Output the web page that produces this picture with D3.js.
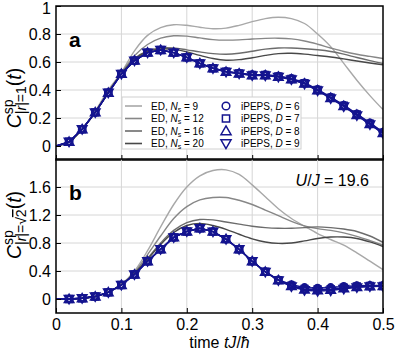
<!DOCTYPE html>
<html>
<head>
<meta charset="utf-8">
<title>Csp dynamics</title>
<script src="https://cdnjs.cloudflare.com/ajax/libs/d3/7.8.5/d3.min.js"></script>
<style>
  body { margin: 0; background: #fff; }
  svg { display: block; font-family: "Liberation Sans", Arial, sans-serif; }
</style>
</head>
<body>
<svg id="chart" width="395" height="353"></svg>
<script>
// time grid (tJ/hbar), shared by ED curves and iPEPS points
const times = [0, 0.02, 0.04, 0.06, 0.08, 0.1, 0.12, 0.14, 0.16, 0.18, 0.2, 0.22, 0.24, 0.26,
  0.28, 0.3, 0.32, 0.34, 0.36, 0.38, 0.4, 0.42, 0.44, 0.46, 0.48, 0.5];

const edSizes = [9, 12, 16, 20];
const dValues = [6, 7, 8, 9];

// panel a : |r| = 1
const edTop9 = [0, 0.03, 0.12, 0.25, 0.4, 0.525, 0.68, 0.79, 0.845, 0.866, 0.862, 0.848, 0.838, 0.842, 0.862, 0.888, 0.91, 0.92, 0.91, 0.875, 0.8, 0.71, 0.59, 0.47, 0.36, 0.26];
const edTop12 = [0, 0.03, 0.12, 0.245, 0.39, 0.52, 0.645, 0.725, 0.77, 0.787, 0.785, 0.772, 0.76, 0.756, 0.758, 0.764, 0.769, 0.77, 0.765, 0.75, 0.727, 0.7, 0.675, 0.655, 0.64, 0.625];
const edTop16 = [0, 0.03, 0.12, 0.24, 0.385, 0.515, 0.625, 0.68, 0.7, 0.7, 0.687, 0.672, 0.66, 0.655, 0.662, 0.677, 0.692, 0.7, 0.7, 0.695, 0.687, 0.675, 0.656, 0.632, 0.61, 0.59];
const edTop20 = [0, 0.03, 0.12, 0.24, 0.385, 0.515, 0.62, 0.675, 0.694, 0.69, 0.672, 0.647, 0.625, 0.613, 0.617, 0.63, 0.647, 0.66, 0.662, 0.656, 0.646, 0.636, 0.622, 0.607, 0.593, 0.58];

const pepsTop6 = [0, 0.03, 0.12, 0.24, 0.38, 0.515, 0.61, 0.667, 0.686, 0.667, 0.633, 0.592, 0.557, 0.533, 0.521, 0.51, 0.51, 0.5, 0.483, 0.452, 0.405, 0.35, 0.292, 0.23, 0.166, 0.1];
const pepsTop7 = [0, 0.03, 0.12, 0.24, 0.38, 0.515, 0.61, 0.667, 0.686, 0.667, 0.633, 0.59, 0.555, 0.531, 0.519, 0.507, 0.507, 0.497, 0.479, 0.448, 0.4, 0.345, 0.288, 0.225, 0.16, 0.095];
const pepsTop8 = [0, 0.03, 0.12, 0.24, 0.38, 0.515, 0.61, 0.667, 0.686, 0.667, 0.633, 0.59, 0.555, 0.53, 0.518, 0.505, 0.505, 0.495, 0.477, 0.446, 0.398, 0.343, 0.285, 0.222, 0.157, 0.092];
const pepsTop9 = [0, 0.03, 0.12, 0.24, 0.38, 0.515, 0.61, 0.667, 0.686, 0.667, 0.633, 0.589, 0.554, 0.529, 0.517, 0.504, 0.503, 0.493, 0.475, 0.444, 0.396, 0.34, 0.282, 0.219, 0.154, 0.09];

// panel b : |r| = sqrt(2)
const edBot9 = [0, 0, 0.01, 0.035, 0.1, 0.21, 0.4, 0.69, 1.03, 1.35, 1.6, 1.76, 1.835, 1.845, 1.78, 1.63, 1.46, 1.29, 1.15, 1.04, 0.935, 0.85, 0.77, 0.66, 0.54, 0.42];
const edBot12 = [0, 0, 0.01, 0.035, 0.1, 0.21, 0.38, 0.635, 0.9, 1.15, 1.32, 1.415, 1.45, 1.45, 1.41, 1.35, 1.27, 1.19, 1.11, 1.045, 1.005, 0.98, 0.945, 0.895, 0.835, 0.77];
const edBot16 = [0, 0, 0.01, 0.035, 0.1, 0.205, 0.37, 0.58, 0.8, 0.98, 1.09, 1.135, 1.13, 1.1, 1.07, 1.04, 1.02, 1.01, 1.01, 1.02, 1.03, 1.02, 1.0, 0.965, 0.9, 0.81];
const edBot20 = [0, 0, 0.01, 0.035, 0.1, 0.205, 0.365, 0.565, 0.78, 0.95, 1.05, 1.08, 1.05, 0.995, 0.925, 0.86, 0.815, 0.795, 0.8, 0.83, 0.865, 0.885, 0.885, 0.865, 0.815, 0.75];

const pepsBot6 = [0, 0, 0.01, 0.035, 0.095, 0.2, 0.35, 0.54, 0.71, 0.88, 0.965, 1.01, 0.962, 0.855, 0.71, 0.54, 0.392, 0.275, 0.205, 0.165, 0.155, 0.165, 0.18, 0.19, 0.195, 0.195];
const pepsBot7 = [0, 0, 0.01, 0.035, 0.095, 0.2, 0.35, 0.54, 0.71, 0.88, 0.965, 1.01, 0.962, 0.855, 0.71, 0.54, 0.39, 0.27, 0.19, 0.145, 0.135, 0.14, 0.16, 0.178, 0.186, 0.186];
const pepsBot8 = [0, 0, 0.01, 0.035, 0.095, 0.2, 0.35, 0.54, 0.71, 0.88, 0.965, 1.01, 0.962, 0.855, 0.71, 0.54, 0.388, 0.268, 0.185, 0.135, 0.125, 0.132, 0.153, 0.172, 0.182, 0.184];
const pepsBot9 = [0, 0, 0.01, 0.035, 0.095, 0.2, 0.35, 0.54, 0.71, 0.88, 0.965, 1.01, 0.962, 0.855, 0.71, 0.54, 0.386, 0.265, 0.178, 0.125, 0.112, 0.12, 0.145, 0.166, 0.178, 0.18];

const xTicks = [0, 0.1, 0.2, 0.3, 0.4, 0.5];
const yTicksTop = [0, 0.2, 0.4, 0.6, 0.8, 1];
const yTicksBot = [0, 0.4, 0.8, 1.2, 1.6];

const grays = ["#a8a8a8", "#878787", "#6c6c6c", "#484848"];
const blue = "#14148f";

const svg = d3.select("#chart");
const left = 56, right = 383;
const x = d3.scaleLinear().domain([0, 0.5]).range([left, right]);
const yTop = d3.scaleLinear().domain([-0.1, 1]).range([160, 6]);
const yBot = d3.scaleLinear().domain([-0.2, 2]).range([313, 159]);

const symbolTypes = [d3.symbolCircle, d3.symbolSquare, d3.symbolTriangle, d3.symbolTriangle];
const symbolSizes = [36, 42, 34, 34];
const symbolRot = [0, 0, 0, 180];

function toPoints(vals) {
  return vals.map((v, i) => ({ t: times[i], v: v }));
}

function panel(id, y, edList, pepsList, yTicks, showXLabels) {
  const [y0, y1] = y.range();
  const g = svg.append("g");

  g.append("clipPath").attr("id", "clip" + id)
    .append("rect").attr("x", left).attr("y", y1).attr("width", right - left).attr("height", y0 - y1);

  // grid
  g.append("g").selectAll("line.v").data(xTicks.filter(d => d > 0 && d < 0.5)).join("line")
    .attr("x1", d => x(d)).attr("x2", d => x(d)).attr("y1", y0).attr("y2", y1)
    .attr("stroke", "#d6d6d6").attr("stroke-width", 1);
  g.append("g").selectAll("line.h").data(yTicks.filter(d => d > 0 && y(d) > y1 + 2)).join("line")
    .attr("x1", left).attr("x2", right).attr("y1", d => y(d)).attr("y2", d => y(d))
    .attr("stroke", "#d6d6d6").attr("stroke-width", 1);

  const data = g.append("g").attr("clip-path", `url(#clip${id})`);

  const edLine = d3.line().x(d => x(d.t)).y(d => y(d.v)).curve(d3.curveCatmullRom.alpha(0.5));
  edList.forEach((vals, i) => {
    data.append("path").attr("d", edLine(toPoints(vals)))
      .attr("fill", "none").attr("stroke", grays[i]).attr("stroke-width", 1.4);
  });

  const pLine = d3.line().x(d => x(d.t)).y(d => y(d.v));
  pepsList.forEach(vals => {
    data.append("path").attr("d", pLine(toPoints(vals)))
      .attr("fill", "none").attr("stroke", blue).attr("stroke-width", 1.4);
  });
  pepsList.forEach((vals, k) => {
    const sym = d3.symbol().type(symbolTypes[k]).size(symbolSizes[k]);
    data.append("g").selectAll("path").data(toPoints(vals).filter(d => d.t > 0)).join("path")
      .attr("d", sym)
      .attr("transform", d => `translate(${x(d.t)},${y(d.v) + (k === 2 ? 0.7 : k === 3 ? -0.7 : 0)}) rotate(${symbolRot[k]})`)
      .attr("fill", "none").attr("stroke", blue).attr("stroke-width", 1.9);
  });

  // axes with inward ticks
  const ay = g.append("g").attr("transform", `translate(${left},0)`)
    .call(d3.axisLeft(y).tickValues(yTicks).tickSizeInner(-5).tickSizeOuter(0).tickPadding(5)
      .tickFormat(d => d === 0 ? "0" : d === 1 ? "1" : d3.format(".1f")(d)));
  const ax = g.append("g").attr("transform", `translate(0,${y0})`)
    .call(d3.axisBottom(x).tickValues(xTicks).tickSizeInner(-5).tickSizeOuter(0).tickPadding(6)
      .tickFormat(d => showXLabels ? (d === 0 ? "0" : d3.format(".1f")(d)) : ""));
  [ay, ax].forEach(a => {
    a.select(".domain").remove();
    a.selectAll("text").attr("font-size", 16).attr("fill", "#000")
      .attr("font-family", "'Liberation Sans', Arial, sans-serif");
    a.selectAll("line").attr("stroke", "#000");
  });
  // keep the topmost label inside the picture
  ay.selectAll(".tick").filter(d => y(d) < 10).select("text").attr("dy", "0.45em");

  g.append("rect").attr("x", left).attr("y", y1).attr("width", right - left).attr("height", y0 - y1)
    .attr("fill", "none").attr("stroke", "#000").attr("stroke-width", 1.5);
  return g;
}

panel("a", yTop, [edTop9, edTop12, edTop16, edTop20], [pepsTop6, pepsTop7, pepsTop8, pepsTop9], yTicksTop, false);
panel("b", yBot, [edBot9, edBot12, edBot16, edBot20], [pepsBot6, pepsBot7, pepsBot8, pepsBot9], yTicksBot, true);

// legend
const lg = svg.append("g");
lg.append("rect").attr("x", 122).attr("y", 97).attr("width", 179).attr("height", 52)
  .attr("fill", "#fff").attr("stroke", "#d0d0d0").attr("stroke-width", 1);
const rowY = i => 106 + i * 12.5;
edSizes.forEach((n, i) => {
  lg.append("line").attr("x1", 125).attr("x2", 142).attr("y1", rowY(i)).attr("y2", rowY(i))
    .attr("stroke", grays[i]).attr("stroke-width", 1.6);
  const t = lg.append("text").attr("x", 151).attr("y", rowY(i) + 3.6).attr("font-size", 10);
  t.append("tspan").text("ED, ");
  t.append("tspan").attr("font-style", "italic").text("N");
  t.append("tspan").attr("font-size", 7).attr("dy", 2).text("s");
  t.append("tspan").attr("dy", -2).text(" = " + n);
});
dValues.forEach((dv, k) => {
  const sym = d3.symbol().type(symbolTypes[k]).size(symbolSizes[k] + 10);
  lg.append("path").attr("d", sym)
    .attr("transform", `translate(226,${rowY(k) + (k === 2 ? 0.8 : k === 3 ? -0.8 : 0)}) rotate(${symbolRot[k]})`)
    .attr("fill", "none").attr("stroke", blue).attr("stroke-width", 1.5);
  const t = lg.append("text").attr("x", 241).attr("y", rowY(k) + 3.6).attr("font-size", 10);
  t.append("tspan").text("iPEPS, ");
  t.append("tspan").attr("font-style", "italic").text("D");
  t.append("tspan").text(" = " + dv);
});

// y labels: C^sp_{sub}(t)
function yLabel(cx, cy, sub) {
  const g = svg.append("g").attr("transform", `translate(${cx},${cy}) rotate(-90)`);
  const txt = g.append("text").attr("font-size", 19.5);
  txt.append("tspan").attr("font-style", "italic").text("C");
  const s = txt.append("tspan").attr("font-size", 14).attr("dy", 5);
  sub.forEach(p => {
    const ts = s.append("tspan").text(p.s);
    if (p.it) ts.attr("font-style", "italic");
    if (p.ov) ts.style("text-decoration", "overline");
  });
  const subW = s.node().getComputedTextLength();
  const sp = txt.append("tspan").attr("font-size", 14).attr("dy", -13).attr("dx", -subW).text("sp");
  const spW = sp.node().getComputedTextLength();
  const rest = txt.append("tspan").attr("dy", 8).attr("dx", subW - spW);
  rest.append("tspan").text("(");
  rest.append("tspan").attr("font-style", "italic").text("t");
  rest.append("tspan").text(")");
  const w = txt.node().getBBox().width;
  txt.attr("x", -w / 2);
}
yLabel(21, 98, [{ s: "|" }, { s: "r", it: true }, { s: "|=1" }]);
yLabel(21, 225, [{ s: "|" }, { s: "r", it: true }, { s: "|=√" }, { s: "2", ov: true }]);

// panel letters and annotation
svg.append("text").attr("x", 69).attr("y", 47).attr("font-size", 21).attr("font-weight", "bold").text("a");
svg.append("text").attr("x", 69).attr("y", 200).attr("font-size", 21).attr("font-weight", "bold").text("b");

const uj = svg.append("text").attr("x", 369).attr("y", 186).attr("font-size", 16).attr("text-anchor", "end");
uj.append("tspan").attr("font-style", "italic").text("U");
uj.append("tspan").text("/");
uj.append("tspan").attr("font-style", "italic").text("J");
uj.append("tspan").text(" = 19.6");

const xl = svg.append("text").attr("x", (left + right) / 2).attr("y", 348).attr("font-size", 16).attr("text-anchor", "middle");
xl.append("tspan").text("time ");
xl.append("tspan").attr("font-style", "italic").text("tJ");
xl.append("tspan").text("/");
xl.append("tspan").attr("font-style", "italic").text("ħ");
</script>
</body>
</html>
